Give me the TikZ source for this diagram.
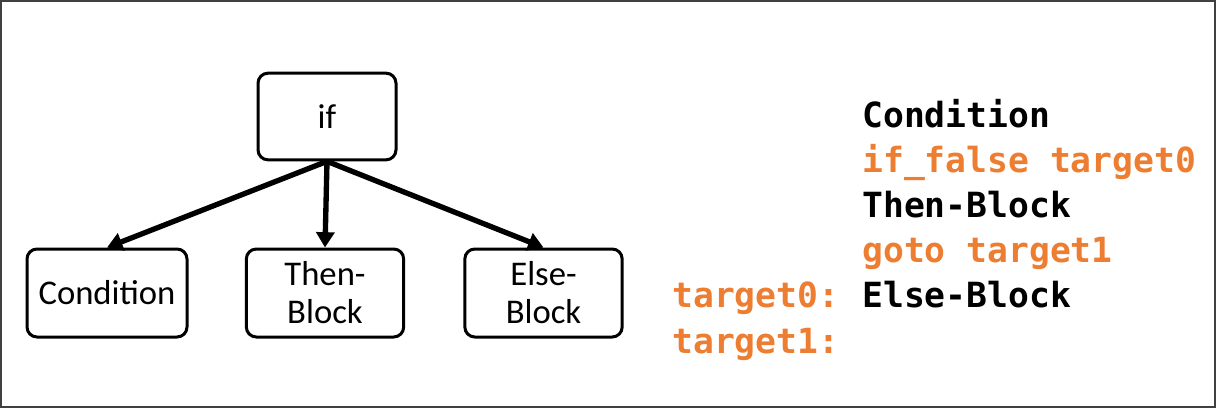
\documentclass[tikz,border=0pt]{standalone}
\usepackage{fontspec}
\setmainfont{Carlito}
\setmonofont{DejaVu Sans Mono}
\usetikzlibrary{arrows.meta}
\definecolor{codeorange}{HTML}{ED7D31}
\definecolor{framegray}{HTML}{404040}
\begin{document}
\begin{tikzpicture}[x=0.75pt,y=-0.75pt,
  treebox/.style={draw, line width=2.25pt, rounded corners=7.5pt, inner sep=0pt,
    align=center, font=\fontsize{26}{28.5}\selectfont},
  treearrow/.style={line width=4pt, -{Triangle[width=13.5pt,length=11.5pt]}},
  codeline/.style={anchor=base west, inner sep=0pt,
    font=\fontsize{26}{30}\selectfont\ttfamily\bfseries},
  kw/.style={text=codeorange},
]
\useasboundingbox (0,0) rectangle (1216,408);
\draw[framegray, line width=1.5pt] (1,1) rectangle (1215,407);

% tree
\node[treebox, minimum width=103.5pt, minimum height=65pt] (if) at (327,116.5) {if};
\node[treebox, minimum width=120pt, minimum height=66pt] (cond) at (107,293) {Condition};
\node[treebox, minimum width=118pt, minimum height=66pt] (then) at (325,293) {Then-\\Block};
\node[treebox, minimum width=118pt, minimum height=66pt] (else) at (543.5,293) {Else-\\Block};

\draw[treearrow] (if.south) -- (cond.north);
\draw[treearrow] (if.south) -- (then.north);
\draw[treearrow] (if.south) -- (else.north);

% code
\node[codeline] (c1) at (862,127) {Condition};
\node[codeline, kw] (c2) at (862,172) {if\_false target0};
\node[codeline] (c3) at (862,217) {Then-Block};
\node[codeline, kw] (c4) at (862,262) {goto target1};
\node[codeline, kw] (l1) at (672,307.5) {target0:};
\node[codeline] (c5) at (862,307.5) {Else-Block};
\node[codeline, kw] (l2) at (672,353) {target1:};
\end{tikzpicture}
\end{document}
